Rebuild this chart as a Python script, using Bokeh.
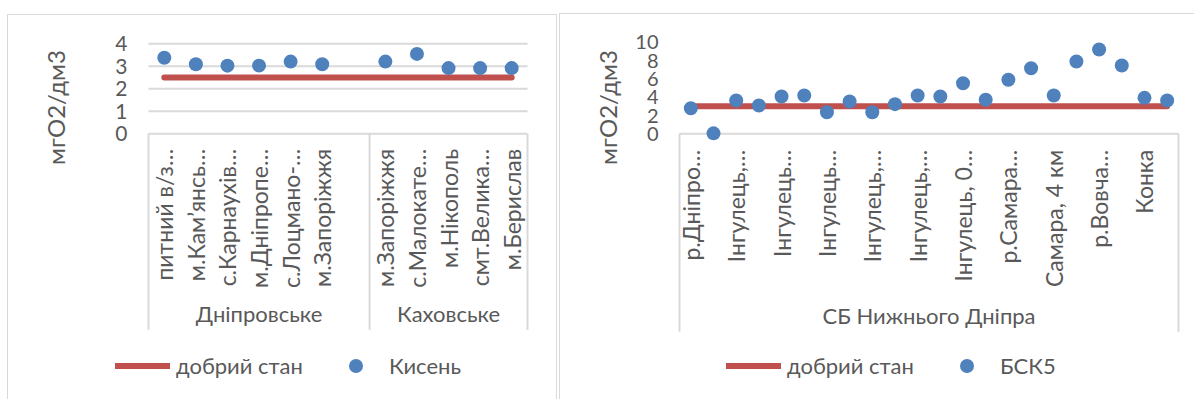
import math
from bokeh.plotting import figure
from bokeh.models import Range1d, FixedTicker, Legend, LegendItem, LinearAxis
from bokeh.layouts import row
from bokeh.core.properties import value
from bokeh.embed import file_html
from bokeh.resources import INLINE

# ---------------- data: left chart (Кисень) ----------------
left_labels = ["питний в/з…", "м.Кам’янсь…", "с.Карнаухів…", "м.Дніпропе…", "с.Лоцмано-…",
               "м.Запоріжжя", "",
               "м.Запоріжжя", "с.Малокате…", "м.Нікополь", "смт.Велика…", "м.Берислав"]
left_groups = ["Дніпровське", "Каховське"]
left_group_sizes = [7, 5]
kysen = [3.38, 3.09, 3.03, 3.03, 3.21, 3.09, float("nan"), 3.21, 3.55, 2.92, 2.92, 2.92]
good_left = [2.5, 2.5, 2.5, 2.5, 2.5, 2.5, 2.5, 2.5, 2.5, 2.5, 2.5, 2.5]
left_yticks = [0, 1, 2, 3, 4]

# ---------------- data: right chart (БСК5) ----------------
right_labels = ["р.Дніпро…", "", "Інгулець,…", "", "Інгулець…", "", "Інгулець…", "",
                "Інгулець,…", "", "Інгулець,…", "", "Інгулець, 0…", "", "р.Самара…", "",
                "Самара, 4 км", "", "р.Вовча…", "", "Конка", ""]
right_groups = ["СБ Нижнього Дніпра"]
right_group_sizes = [22]
bsk5 = [2.8, 0.05, 3.64, 3.09, 4.08, 4.19, 2.36, 3.53, 2.36, 3.24, 4.19, 4.08,
        5.53, 3.72, 5.9, 7.17, 4.19, 7.9, 9.21, 7.46, 3.93, 3.64]
good_right = [3.0] * 22
right_yticks = [0, 2, 4, 6, 8, 10]

y_title = "мгО2/дм3"
good_name = "добрий стан"

FONT = "Lato"
TXT = "#595959"
GRIDC = "#d9d9d9"
RED = "#C0504D"
BLUE = "#4F81BD"


def make_chart(labels, groups, sizes, vals, good, name, yticks, show_grid,
               ox, oy, W, H, plot_left, ppx, y0, ppu,
               lab_off, grp_off, box_off, title_px, leg_px, shadow, margin,
               tick_fs, lab_fs):
    n = len(labels)
    xs = list(range(n))
    x_start = -0.5 - (plot_left - ox) / ppx
    x_end = x_start + W / ppx
    y_end = (y0 - oy) / ppu
    y_start = y_end - H / ppu

    def cx(page_x):
        return x_start + (page_x - ox) / ppx

    def cy(page_y):
        return y_end - (page_y - oy) / ppu

    p = figure(width=W, height=H, x_range=Range1d(x_start, x_end), y_range=Range1d(y_start, y_end),
               output_backend="svg", toolbar_location=None,
               x_axis_location=None, y_axis_location=None, min_border=0,
               border_fill_color=None, background_fill_color=None, outline_line_color=None,
               margin=margin)
    p.styles = {"box-shadow": shadow}
    p.xgrid.visible = False
    p.ygrid.visible = False

    ax = LinearAxis(fixed_location=-0.5, ticker=FixedTicker(ticks=yticks))
    ax.axis_line_color = None
    ax.major_tick_line_color = None
    ax.minor_tick_line_color = None
    ax.major_tick_out = 0
    ax.major_tick_in = 0
    ax.major_label_standoff = 21
    ax.major_label_text_font = FONT
    ax.major_label_text_font_size = tick_fs
    ax.major_label_text_color = TXT
    p.add_layout(ax, "left")

    # horizontal gridlines (value ticks above 0)
    if show_grid:
        gy = [t for t in yticks if t > 0]
        p.segment(x0=[-0.5] * len(gy), y0=gy, x1=[n - 0.5] * len(gy), y1=gy,
                  line_color=GRIDC, line_width=2)

    # category box: top line and group separators
    bounds = [-0.5]
    acc = -0.5
    for s in sizes:
        acc += s
        bounds.append(acc)
    ybot = -box_off / ppu
    p.segment(x0=[-0.5] + bounds, y0=[0] * (len(bounds) + 1),
              x1=[n - 0.5] + bounds, y1=[0] + [ybot] * len(bounds),
              line_color=GRIDC, line_width=2)

    # category labels
    p.text(x=xs, y=[-lab_off / ppu] * n, text=labels, angle=math.pi / 2,
           text_align="right", text_baseline="middle", text_font=value(FONT),
           text_font_size=lab_fs, text_color=TXT)
    # group labels
    centers = [(bounds[i] + bounds[i + 1]) / 2 for i in range(len(sizes))]
    p.text(x=centers, y=[-grp_off / ppu] * len(centers), text=groups,
           text_align="center", text_baseline="middle", text_font=value(FONT),
           text_font_size="22px", text_color=TXT)

    # value-axis title
    p.text(x=[cx(title_px[0])], y=[cy(title_px[1])], text=[y_title], angle=math.pi / 2,
           text_align="center", text_baseline="middle", text_font=value(FONT),
           text_font_size="24px", text_color=TXT)

    r_line = p.line(xs, good, line_color=RED, line_width=6, line_cap="round")
    r_dot = p.scatter(xs, vals, size=14, fill_color=BLUE, line_color=None)

    gh = 35
    leg = Legend(items=[LegendItem(label=good_name, renderers=[r_line]),
                        LegendItem(label=name, renderers=[r_dot])],
                 orientation="horizontal",
                 location=(leg_px[0] - ox, (oy + H) - (leg_px[1] + gh / 2)),
                 glyph_width=55, glyph_height=gh, label_standoff=6, spacing=25,
                 padding=0, margin=0, border_line_color=None, background_fill_alpha=0,
                 label_text_font=FONT, label_text_font_size="22px", label_text_color=TXT)
    p.add_layout(leg, "center")
    return p


p1 = make_chart(left_labels, left_groups, left_group_sizes, kysen, good_left, "Кисень",
                left_yticks, True,
                ox=7, oy=14, W=550, H=385, plot_left=148, ppx=379 / 12, y0=133.3, ppu=22.5,
                lab_off=15, grp_off=180, box_off=196, title_px=(55, 107), leg_px=(115, 365),
                shadow="inset 1px 1px 0 #d9d9d9, inset -1px 0 0 #d9d9d9",
                margin=(14, 0, 0, 7), tick_fs="21px", lab_fs="23px")

p2 = make_chart(right_labels, right_groups, right_group_sizes, bsk5, good_right, "БСК5",
                right_yticks, False,
                ox=559, oy=13, W=635, H=386, plot_left=679, ppx=499 / 22, y0=133.3, ppu=9.15,
                lab_off=16, grp_off=182, box_off=198, title_px=(607, 107), leg_px=(726, 365),
                shadow="inset 1px 1px 0 #d9d9d9",
                margin=(13, 0, 0, 2), tick_fs="20px", lab_fs="23px")

layout = row(p1, p2)
open("out.html", "w").write(file_html(layout, INLINE))
